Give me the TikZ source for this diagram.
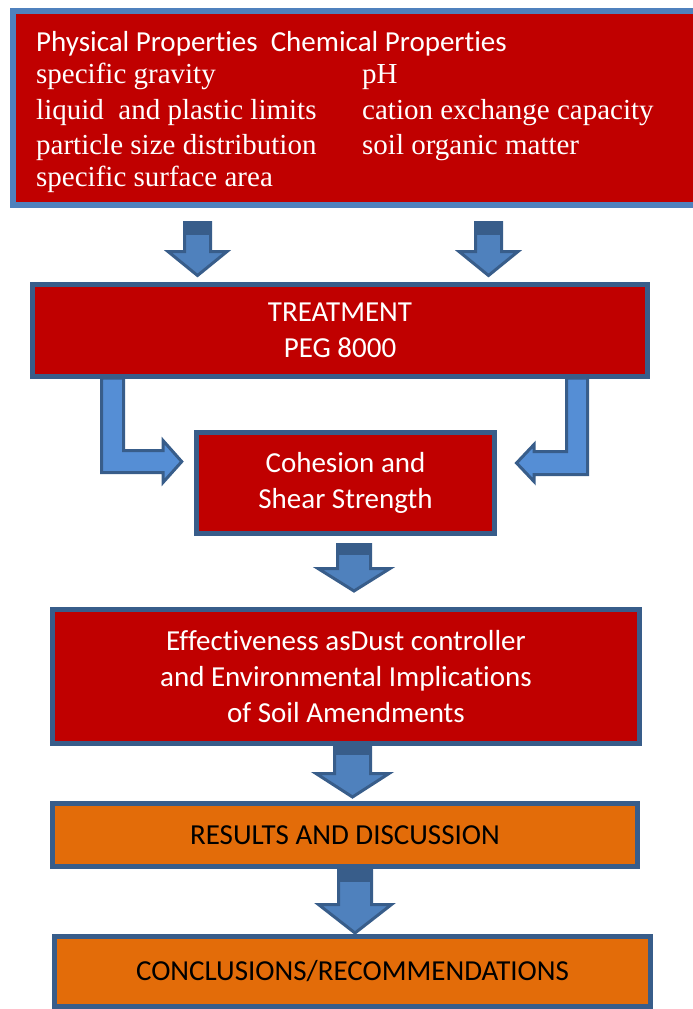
\documentclass[tikz,border=0pt]{standalone}
\usepackage{fontspec}
\setmainfont{Liberation Serif}
\newfontfamily\calibri{Carlito}[Ligatures=NoCommon]
\usetikzlibrary{positioning, calc}
\definecolor{flowRed}{HTML}{C00000}
\definecolor{flowOrange}{HTML}{E36C09}
\definecolor{flowBlue}{HTML}{4F81BD}
\definecolor{flowLightBlue}{HTML}{558ED5}
\definecolor{flowEdge}{HTML}{385D8A}
\tikzset{
  flowbox/.style={draw=flowEdge, line width=5pt, fill=flowRed, text=white, align=center,
    inner sep=0pt, font=\calibri\fontsize{29}{36}\selectfont},
  proptext/.style={anchor=base west, inner sep=0pt, text=white, font=\fontsize{29}{35}\selectfont},
  blockarrow/.style={draw=flowEdge, line width=3pt, fill=flowBlue, line join=miter},
}
\begin{document}
\begin{tikzpicture}[x=1pt, y=-1pt]
    \useasboundingbox (0,0) rectangle (693,1009);
    \node[flowbox, draw=flowBlue, line width=6pt, minimum width=707pt, minimum height=194pt] (props) at (366.5,108) {};
    \node[proptext, font=\calibri\fontsize{29}{35}\selectfont] (hdr) at (36,51) {Physical Properties\ \ Chemical Properties};
    \node[proptext] (p1) at (36,83) {specific gravity};
    \node[proptext] (p2) at (36,119) {liquid\ \ and plastic limits};
    \node[proptext] (p3) at (36,154) {particle size distribution};
    \node[proptext] (p4) at (36,186) {specific surface area};
    \node[proptext] (c1) at (362,83) {pH};
    \node[proptext] (c2) at (362,119) {cation exchange capacity};
    \node[proptext] (c3) at (362,154) {soil organic matter};

    \node[flowbox, minimum width=615pt, minimum height=92.5pt] (treat) at (340,330.25) {TREATMENT\\PEG 8000};
    \node[flowbox, minimum width=297.5pt, minimum height=101pt] (coh) at (345.5,482.6) {Cohesion and\\Shear Strength};
    \node[flowbox, minimum width=587pt, minimum height=134pt] (eff) at (346,676.5)
      {Effectiveness asDust controller\\and Environmental Implications\\of Soil Amendments};
    \node[flowbox, fill=flowOrange, text=black, minimum width=585pt, minimum height=63pt] (res) at (345,835) {RESULTS AND DISCUSSION};
    \node[flowbox, fill=flowOrange, text=black, minimum width=596pt, minimum height=70pt] (conc) at (352.5,971.5) {CONCLUSIONS/RECOMMENDATIONS};

    % straight block arrows
    \coordinate (colA) at (197.5,222.5);
    \coordinate (colB) at (488.5,222.5);
    \coordinate (colC) at (354,544.5);
    \coordinate (colD) at (352.5,743.5);
    \coordinate (colE) at (355,867);
    \draw[blockarrow] (184.5,222.5) -- (184.5,251.5) -- (168,251.5) -- ($(colA |- treat.north)+(0,-6)$)
      -- (227,251.5) -- (210.5,251.5) -- (210.5,222.5) -- cycle;
    \fill[flowEdge] (183,221) rectangle (212,235);
    \draw[blockarrow] (475.5,222.5) -- (475.5,251.5) -- (459,251.5) -- ($(colB |- treat.north)+(0,-6)$)
      -- (518,251.5) -- (501.5,251.5) -- (501.5,222.5) -- cycle;
    \fill[flowEdge] (474,221) rectangle (503,235);
    \draw[blockarrow] (337.5,544.5) -- (337.5,568.5) -- (318,568.5) -- ($(colC |- eff.north)+(0,-16)$)
      -- (390,568.5) -- (370.5,568.5) -- (370.5,544.5) -- cycle;
    \fill[flowEdge] (336,543) rectangle (372,555);
    \draw[blockarrow] (334.5,743.5) -- (334.5,773.5) -- (316,773.5) -- ($(colD |- res.north)+(0,-4)$)
      -- (389,773.5) -- (370.5,773.5) -- (370.5,743.5) -- cycle;
    \fill[flowEdge] (333,743) rectangle (372,755);
    \draw[blockarrow] (338.5,867) -- (338.5,904.5) -- (318.5,904.5) -- ($(colE |- conc.north)+(0,-1)$)
      -- (391.5,904.5) -- (371.5,904.5) -- (371.5,867) -- cycle;
    \fill[flowEdge] (337,868) rectangle (373,882);

    % bent block arrows
    \draw[blockarrow, fill=flowLightBlue] (101.5,378) -- (123.5,378) -- (123.5,450.5) -- (163,450.5) -- (163,440.5)
      -- ($(coh.west)+(-12.5,-21)$) -- (163,482.5) -- (163,472.5) -- (101.5,472.5) -- cycle;
    \draw[blockarrow, fill=flowLightBlue] (587.5,378) -- (566.5,378) -- (566.5,451.5) -- (534,451.5) -- (534,444.5)
      -- ($(coh.east)+(19.8,-19.6)$) -- (534,481.5) -- (534,474.5) -- (587.5,474.5) -- cycle;
  \end{tikzpicture}
\end{document}
